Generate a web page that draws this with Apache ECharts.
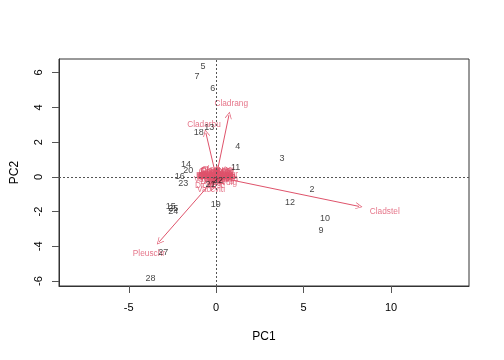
<!DOCTYPE html>
<html><head><meta charset="utf-8">
<script src="https://cdn.jsdelivr.net/npm/echarts@6/dist/echarts.min.js"></script>
<style>html,body{margin:0;padding:0;background:#fff}#c{width:504px;height:360px}</style>
</head><body><div id="c"></div>
<script>
// Site scores (PC1, PC2)
var siteNames = ['5','7','6','13','18','4','3','14','11','20','16','23','21','22','19','15','25','24','27','28','2','12','10','9'];
var siteX = [-0.76,-1.10,-0.19,-0.40,-0.99,1.24,3.76,-1.73,1.11,-1.60,-2.08,-1.89,-0.32,0.10,-0.02,-2.60,-2.45,-2.45,-3.03,-3.76,5.48,4.22,6.22,5.99];
var siteY = [6.32,5.79,5.11,2.84,2.56,1.77,1.08,0.73,0.52,0.35,0.04,-0.36,-0.46,-0.20,-1.59,-1.70,-1.83,-2.00,-4.35,-5.85,-0.71,-1.46,-2.38,-3.11];

// Species arrows (PC1, PC2)
var speciesNames = ['Callvulg','Empenigr','Rhodtome','Vaccmyrt','Vaccviti','Pinusylv','Descflex','Betupube','Vacculig','Diphcomp','Dicrsp','Dicrfusc','Dicrpoly','Hylosple','Pleuschr','Polypili','Polyjuni','Polycomm','Pohlnuta','Ptilcili','Barbhatc','Cladarbu','Cladrang','Cladstel','Cladunci','Cladcocc','Cladcorn','Cladgrac','Cladfimb','Cladcris','Cladchlo','Cladbotr','Cladamau','Cladsp','Cetreric','Cetrisla','Flavniva','Nepharct','Stersp','Peltapht','Icmaeric','Cladcerv','Claddefo','Cladphyl'];
var speciesX = [0.30,0.20,-0.05,-0.25,-0.25,0.02,-0.08,-0.01,0.12,0.04,-0.20,-0.30,-0.02,-0.12,-3.26,0.01,-0.04,-0.01,0.02,-0.16,-0.08,-0.59,0.73,8.17,0.08,0.02,0.04,0.06,0.04,-0.04,0.02,0.00,0.01,0.01,0.12,0.16,0.32,-0.02,0.35,0.00,0.04,0.01,-0.04,0.02];
var speciesY = [-0.30,0.10,0.05,-0.15,-0.65,0.05,0.05,0.00,-0.15,0.00,-0.25,-0.45,0.00,-0.10,-3.74,0.00,-0.05,0.00,0.02,0.00,0.05,2.53,3.55,-1.70,0.35,0.10,0.30,0.25,0.10,0.30,0.15,0.05,0.00,0.05,0.20,0.05,-0.10,0.00,0.00,0.00,0.00,0.02,0.25,0.00];

var xTicks = [-5,0,5,10];
var yTicks = [-6,-4,-2,0,2,4,6];

var red = '#DF536B';
var font = 'Liberation Sans, Arial, Helvetica, sans-serif';

var arrowData = speciesNames.map(function(n,i){ return {coords:[[0,0],[speciesX[i],speciesY[i]]]}; });
var specLabelData = speciesNames.map(function(n,i){ return [speciesX[i]*1.18, speciesY[i]*1.18, n]; });
var siteData = siteNames.map(function(n,i){ return [siteX[i], siteY[i], n]; });

var chart = echarts.init(document.getElementById('c'), null, {renderer:'canvas'});
chart.setOption({
  animation:false,
  backgroundColor:'#fff',
  grid:{left:59,right:35,top:59,bottom:74,show:true,borderColor:'#333',borderWidth:1,backgroundColor:'transparent',containLabel:false},
  xAxis:{type:'value',min:-8.99,max:14.46,name:'PC1',nameLocation:'middle',nameGap:45,
    nameTextStyle:{fontFamily:font,fontSize:12,color:'#000'},
    axisLine:{show:true,onZero:false,lineStyle:{color:'#333'}},
    axisTick:{show:true,length:7,lineStyle:{color:'#555'},customValues:xTicks},
    axisLabel:{fontFamily:font,fontSize:11,color:'#000',margin:16,customValues:xTicks},
    splitLine:{show:false}},
  yAxis:{type:'value',min:-6.28,max:6.78,name:'PC2',nameLocation:'middle',nameGap:38,
    nameTextStyle:{fontFamily:font,fontSize:12,color:'#000'},
    axisLine:{show:true,onZero:false,lineStyle:{color:'#333'}},
    axisTick:{show:true,length:7,lineStyle:{color:'#555'},customValues:yTicks},
    axisLabel:{fontFamily:font,fontSize:11,color:'#000',margin:15,rotate:90,customValues:yTicks},
    splitLine:{show:false}},
  series:[
    {type:'scatter',data:[],silent:true,
     markLine:{silent:true,symbol:['none','none'],label:{show:false},
       lineStyle:{color:'#555',type:[2,2],width:1},
       data:[{xAxis:0},{yAxis:0}]}},
    {type:'lines',coordinateSystem:'cartesian2d',silent:true,
     symbol:['none','path://M0,10 L5,0 L10,10 L9,10 L5,2 L1,10 Z'],symbolSize:[7,7],
     lineStyle:{color:red,width:1,opacity:1},
     itemStyle:{color:red},
     data:arrowData},
    {type:'scatter',silent:true,symbolSize:1,itemStyle:{color:'rgba(0,0,0,0)'},
     label:{show:true,position:'inside',formatter:function(p){return p.data[2];},
       fontFamily:font,fontSize:8.3,color:red},
     data:specLabelData},
    {type:'scatter',silent:true,symbolSize:1,itemStyle:{color:'rgba(0,0,0,0)'},
     label:{show:true,position:'inside',formatter:function(p){return p.data[2];},
       fontFamily:font,fontSize:9,color:'#111'},
     data:siteData}
  ]
});
</script></body></html>
